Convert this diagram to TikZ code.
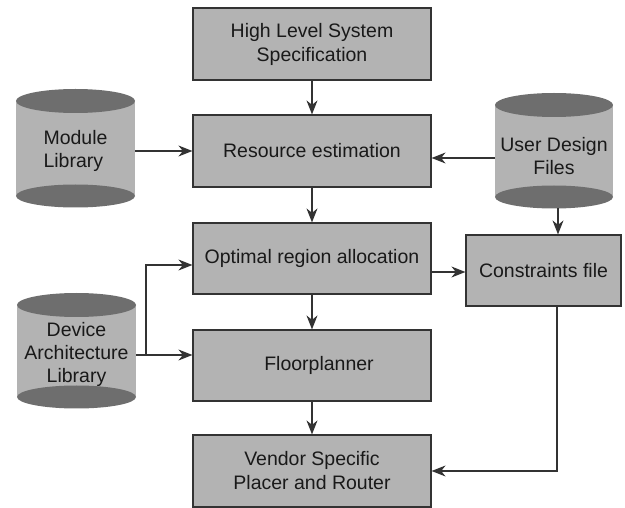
\documentclass[tikz,border=0pt]{standalone}
\usepackage{fontspec}
\setmainfont{Liberation Sans}
\usetikzlibrary{arrows.meta,calc}
\definecolor{boxfill}{HTML}{B3B3B3}
\definecolor{endfill}{HTML}{6E6E6E}
\definecolor{edge}{HTML}{333333}
\tikzset{
  blk/.style={draw=edge, line width=1.2pt, fill=boxfill, minimum width=238pt, minimum height=72pt, inner sep=0pt, align=center, font=\fontsize{19.5}{24}\selectfont, text=black!90},
  cyltext/.style={inner sep=0pt, minimum width=119pt, minimum height=100pt, align=center, font=\fontsize{19.5}{23}\selectfont, text=black!90},
  conn/.style={draw=black!80, line width=1.1pt, -{Stealth[length=14pt, width=11pt, inset=4.5pt]}},
}
\newcommand{\mycyl}[4]{% cx, half width, top center y, bottom center y
  \fill[boxfill] (#1-#2,#3) rectangle (#1+#2,#4);
  \fill[endfill] (#1,#4) ellipse [x radius=#2, y radius=11.5];
  \fill[endfill] (#1,#3) ellipse [x radius=#2, y radius=12];
}
\begin{document}
\begin{tikzpicture}[x=1pt,y=-1pt]
\useasboundingbox (0,0) rectangle (625,508);
% cylinders
\mycyl{75.5}{59.5}{101}{196}
\mycyl{554}{59}{105}{197}
\mycyl{76.5}{59.5}{305}{397}
\node[cyltext, align=left] (mod) at (75.5,151) {Module\\Library};
\node[cyltext] (usr) at (554,156) {User Design\\Files};
\node[cyltext] (dev) at (76.5,354) {Device\\Architecture\\Library};
% boxes
\node[blk] (hl) at (312,44) {High Level System\\Specification};
\node[blk] (re) at (312,151) {Resource estimation};
\node[blk, minimum height=71pt] (ora) at (312,258.5) {Optimal region allocation};
\node[blk, minimum height=71pt, text width=238pt, align=center] (fp) at (312,365.5) {\hspace*{14pt}Floorplanner};
\node[blk] (vsp) at (312,471) {Vendor Specific\\Placer and Router};
\node[blk, minimum width=155pt, minimum height=71pt] (cf) at (543.5,270.5) {Constraints file};
% connectors
\draw[conn] (hl) -- (re);
\draw[conn] (re) -- (ora);
\draw[conn] (ora) -- (fp);
\draw[conn] (fp) -- (vsp);
\draw[conn] (135,151) coordinate (mode) -- (re.west |- mode);
\coordinate (usre) at (495,158);
\draw[conn] (usre) -- (re.east |- usre);
\coordinate (usb) at (558,208);
\draw[conn] (usb) -- (cf.north -| usb);
\coordinate (orae) at (ora.east |- 0,272);
\draw[conn] (orae) -- (cf.west |- orae);
\coordinate (deve) at (136,355);
\draw[conn] (deve) -- (fp.west |- deve);
\coordinate (br) at (146,355);
\draw[conn] (br) |- (ora.west |- 0,265);
\coordinate (cfs) at (cf.south -| 557,0);
\draw[conn] (cfs) |- (vsp.east |- 0,471);
\end{tikzpicture}
\end{document}
